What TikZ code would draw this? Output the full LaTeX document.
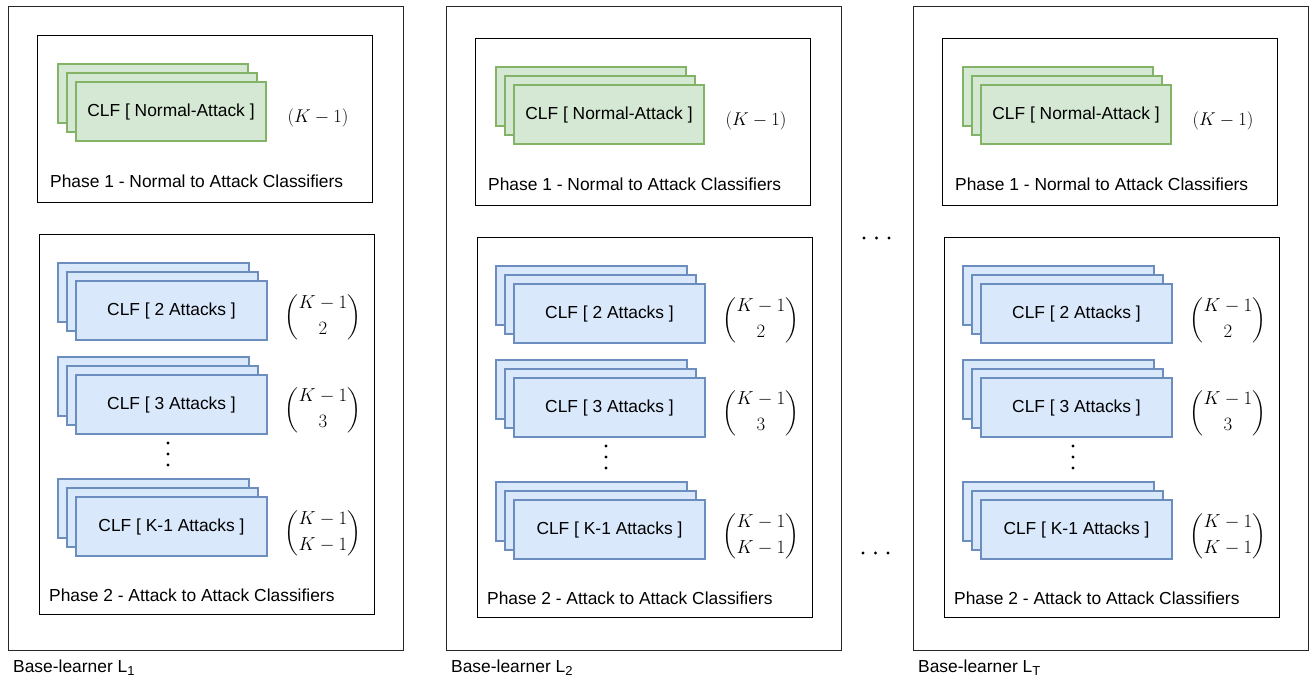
\documentclass[tikz,border=0pt]{standalone}
\usepackage{amsmath}
\usepackage{fontspec}
\setmainfont{Liberation Sans}
\newcommand{\lsub}[1]{\raisebox{-3.3pt}{\fontsize{13}{13}\selectfont #1}}
\begin{document}
\begin{tikzpicture}[x=1pt,y=-1pt,
  outerbox/.style={draw=black!85,line width=1.4pt},
  phasebox/.style={draw=black,line width=1.4pt},
  gcard/.style={draw={rgb,255:red,130;green,179;blue,102},fill={rgb,255:red,213;green,232;blue,212},line width=1.2pt,minimum width=190pt,minimum height=59pt,inner sep=0pt,font=\fontsize{17.4}{20}\selectfont},
  bcard/.style={draw={rgb,255:red,108;green,142;blue,191},fill={rgb,255:red,218;green,232;blue,252},line width=1.2pt,minimum width=191pt,minimum height=59pt,inner sep=0pt,font=\fontsize{17.4}{20}\selectfont},
  lbl/.style={anchor=west,inner sep=0pt,font=\fontsize{17.4}{20}\selectfont},
  mathlbl/.style={inner sep=0pt,font=\fontsize{17.28}{21}\selectfont},
  binlbl/.style={inner sep=0pt,font=\fontsize{17.28}{21}\selectfont},
  dotc/.style={circle,fill=black,inner sep=0pt,minimum size=3.2pt}
]
\useasboundingbox (0,0) rectangle (1312,683);
\fill[white] (0,0) rectangle (1312,683);
\foreach \dx/\dy/\n/\sub in {0/0/1/1,438/3/2/2,905/3/3/T}{
  \begin{scope}[shift={(\dx,0)}]
    \node[outerbox,anchor=north west,minimum width=395pt,minimum height=644pt,inner sep=0pt] (outer\n) at (8,6) {};
    \node[lbl] (bl\n) at (13,668) {Base-learner L\lsub{\sub}};
  \end{scope}
  \begin{scope}[shift={(\dx,\dy)}]
    % phase 1
    \node[phasebox,anchor=north west,minimum width=335pt,minimum height=167pt,inner sep=0pt] (ph1box\n) at (37,35) {};
    \node[gcard] (g3\n) at (153,93.5) {};
    \node[gcard] (g2\n) at (162,102.5) {};
    \node[gcard] (g1\n) at (171,111.5) {CLF [ Normal-Attack ]};
    \node[mathlbl] (gk\n) at (318,118) {\scalebox{1.07}{$(K-1)$}};
    \node[lbl] (ph1lbl\n) at (50,181) {Phase 1 - Normal to Attack Classifiers};
    % phase 2
    \node[phasebox,anchor=north west,minimum width=335pt,minimum height=380pt,inner sep=0pt] (ph2box\n) at (39,234) {};
    \node[bcard] (a3\n) at (153.5,292.5) {};
    \node[bcard] (a2\n) at (162.5,301.5) {};
    \node[bcard] (a1\n) at (171.5,310.5) {CLF [ 2 Attacks ]};
    \node[bcard] (b3\n) at (153.5,386.5) {};
    \node[bcard] (b2\n) at (162.5,395.5) {};
    \node[bcard] (b1\n) at (171.5,404.5) {CLF [ 3 Attacks ]};
    \node[bcard] (c3\n) at (153.5,508.5) {};
    \node[bcard] (c2\n) at (162.5,517.5) {};
    \node[bcard] (c1\n) at (171.5,526.5) {CLF [ K-1 Attacks ]};
    \node[binlbl] (ak\n) at (323,317) {\scalebox{1.09}{$\dbinom{K-1}{2}$}};
    \node[binlbl] (bk\n) at (323,410) {\scalebox{1.09}{$\dbinom{K-1}{3}$}};
    \node[binlbl] (ck\n) at (323,533) {\scalebox{1.09}{$\dbinom{K-1}{K-1}$}};
    \node[dotc] (vd1\n) at (168,443) {};
    \node[dotc] (vd2\n) at (168,454) {};
    \node[dotc] (vd3\n) at (168,465) {};
    \node[lbl] (ph2lbl\n) at (49,595) {Phase 2 - Attack to Attack Classifiers};
  \end{scope}
}
\node[dotc] (hd1) at (864,238) {};
\node[dotc] (hd2) at (876.5,238) {};
\node[dotc] (hd3) at (889,238) {};
\node[dotc] (hd4) at (863,553) {};
\node[dotc] (hd5) at (875.5,553) {};
\node[dotc] (hd6) at (888,553) {};
\end{tikzpicture}
\end{document}
